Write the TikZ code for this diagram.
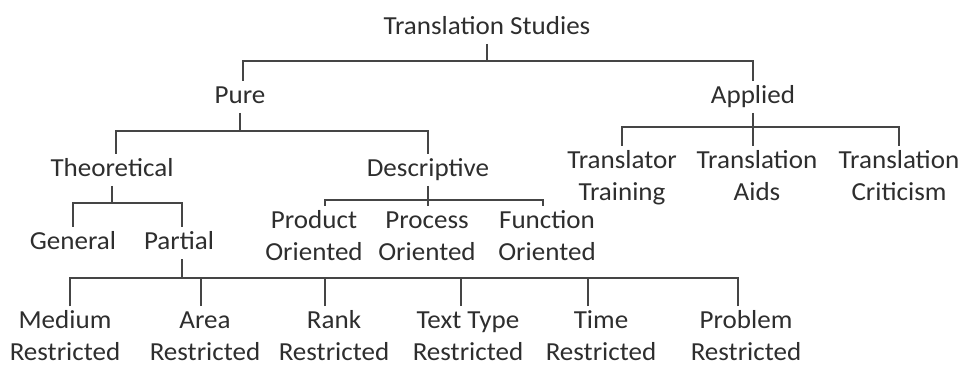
\documentclass[tikz,border=0pt]{standalone}
\usepackage{fontspec}
\setmainfont{Carlito}[FakeStretch=1.04]
\definecolor{txtgray}{HTML}{2E2E2E}
\definecolor{linegray}{HTML}{454545}
\tikzset{
  lbl/.style={anchor=north, inner sep=0pt, outer sep=0pt, align=center, text=txtgray,
    font=\fontsize{26}{32}\selectfont},
  branch/.style={draw=linegray, line width=1.9pt}
}
\begin{document}
\begin{tikzpicture}[x=1pt,y=-1pt]
\fill[white] (0,0) rectangle (969,366);
\useasboundingbox (0,0) rectangle (969,366);

% root
\node[lbl] (ts) at (487,12) {\strut Translation Studies};
% pure / applied
\node[lbl] (pure) at (240,81) {\strut Pure};
\node[lbl] (applied) at (753,81) {\strut Applied};
\draw[branch] (ts.south) -- (ts.south |- 0,61);
\draw[branch] ([xshift=3pt]pure.north) |- (applied.north |- 0,61) -- (applied.north);

% pure: theoretical / descriptive
\node[lbl] (theo) at (112,154) {\strut Theoretical};
\node[lbl] (desc) at (428,154) {\strut Descriptive};
\draw[branch] (pure.south) -- (pure.south |- 0,131);
\draw[branch] ([xshift=4pt]theo.north) |- (desc.north |- 0,131) -- (desc.north);

% applied branches
\node[lbl] (trainer) at (622,146) {\strut Translator\\Training};
\node[lbl] (aids) at (757,146) {\strut Translation\\Aids};
\node[lbl] (crit) at (899,146) {\strut Translation\\Criticism};
\draw[branch] (applied.south) -- (applied.south |- aids.north);
\draw[branch] (trainer.north) |- (crit.north |- 0,127) -- (crit.north);

% theoretical: general / partial
\node[lbl] (gen) at (73,227) {\strut General};
\node[lbl] (part) at (179,227) {\strut Partial};
\draw[branch] (theo.south) -- (theo.south |- 0,203);
\draw[branch] (gen.north) |- ([xshift=3pt]part.north |- 0,203) -- ([xshift=3pt]part.north);

% descriptive: oriented
\node[lbl] (prod) at (314,206) {\strut Product\\Oriented};
\node[lbl] (proc) at (427,206) {\strut Process\\Oriented};
\node[lbl] (func) at (547,206) {\strut Function\\Oriented};
\draw[branch] (desc.south) -- (desc.south |- proc.north);
\draw[branch] ([xshift=11pt]prod.north) |- ([xshift=-4pt]func.north |- 0,200) -- ([xshift=-4pt]func.north);

% partial: restricted
\draw[branch] ([xshift=3pt]part.south) -- ([xshift=3pt]part.south |- 0,278);
\foreach \n/\x/\s/\lab in {med/65/5/Medium, area/205/-4/Area, rank/334/-9/Rank,
    ttype/468/-7/{Text Type}, time/601/-13/Time, prob/746/-8/Problem}{
  \node[lbl] (\n) at (\x,306) {\strut\lab\\Restricted};
  \draw[branch] ([xshift=\s pt]\n.north) -- ([xshift=\s pt]\n.north |- 0,278);
}
\draw[branch] ([xshift=5pt]med.north) |- ([xshift=-8pt]prob.north |- 0,278) -- ([xshift=-8pt]prob.north);
\end{tikzpicture}
\end{document}
